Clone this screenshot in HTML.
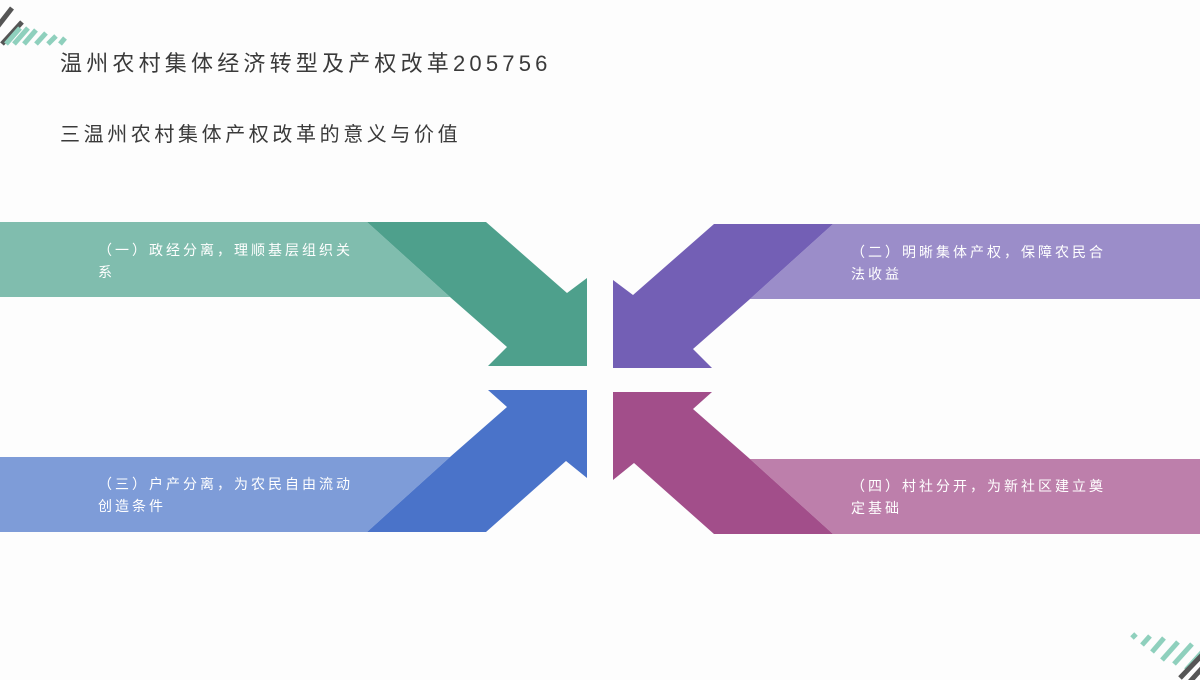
<!DOCTYPE html>
<html><head><meta charset="utf-8"><style>
html,body{margin:0;padding:0;background:#fdfdfd;}
body{width:1200px;height:680px;position:relative;overflow:hidden;font-family:"Liberation Sans","Noto Sans CJK SC",sans-serif;}
.t{position:absolute;color:#3a3a3a;white-space:nowrap;}
.l{position:absolute;color:#fff;font-size:14px;line-height:22px;letter-spacing:3px;white-space:nowrap;}
</style></head><body>
<svg width="1200" height="680" style="position:absolute;left:0;top:0">
<g stroke-width="5">
<line x1="-2" y1="26" x2="12" y2="8" stroke="#555"/>
<line x1="2" y1="44" x2="22" y2="22" stroke="#555"/>
<line x1="6" y1="44" x2="20" y2="28" stroke="#8fd0bd"/>
<line x1="14" y1="44" x2="28" y2="28" stroke="#8fd0bd"/>
<line x1="24" y1="44" x2="36" y2="30" stroke="#8fd0bd"/>
<line x1="36" y1="44" x2="46" y2="33" stroke="#8fd0bd"/>
<line x1="48" y1="44" x2="56" y2="36" stroke="#8fd0bd"/>
<line x1="60" y1="44" x2="65" y2="38" stroke="#8fd0bd"/>
<line x1="1132" y1="638" x2="1136" y2="634" stroke="#8fd0bd"/>
<line x1="1142" y1="645" x2="1150" y2="636" stroke="#8fd0bd"/>
<line x1="1152" y1="652" x2="1164" y2="638" stroke="#8fd0bd"/>
<line x1="1162" y1="660" x2="1178" y2="642" stroke="#8fd0bd"/>
<line x1="1174" y1="664" x2="1192" y2="644" stroke="#8fd0bd"/>
<line x1="1186" y1="670" x2="1204" y2="650" stroke="#8fd0bd"/>
<line x1="1186" y1="686" x2="1204" y2="666" stroke="#555"/>
<line x1="1180" y1="678" x2="1202" y2="655" stroke="#555"/>
</g>
<polygon points="0,222 367,222 450,297 0,297" fill="#80bdae"/>
<polygon points="367,222 486,222 567,293 587,278 587,366 488,366 507,347 450,297" fill="#4ea08c"/>
<polygon points="0,457 450,457 367,532 0,532" fill="#7e9cd8"/>
<polygon points="367,532 486,532 566,461 587,478 587,390 488,390 507,407 450,457" fill="#4a73c9"/>
<polygon points="1200,224 833,224 750,299 1200,299" fill="#9b8dc9"/>
<polygon points="833,224 714,224 633,295 613,280 613,368 712,368 693,349 750,299" fill="#735fb5"/>
<polygon points="1200,459 750,459 833,534 1200,534" fill="#bd7fab"/>
<polygon points="833,534 714,534 634,463 613,480 613,392 712,392 693,409 750,459" fill="#a24e8a"/>
</svg>
<div class="t" style="left:60px;top:46px;font-size:22px;letter-spacing:4.2px;">温州农村集体经济转型及产权改革205756</div>
<div class="t" style="left:60px;top:118px;font-size:20px;letter-spacing:3.6px;">三温州农村集体产权改革的意义与价值</div>
<div class="l" style="left:98px;top:239px;">（一）政经分离，理顺基层组织关<br>系</div>
<div class="l" style="left:851px;top:241px;">（二）明晰集体产权，保障农民合<br>法收益</div>
<div class="l" style="left:98px;top:473px;">（三）户产分离，为农民自由流动<br>创造条件</div>
<div class="l" style="left:851px;top:475px;">（四）村社分开，为新社区建立奠<br>定基础</div>
</body></html>
